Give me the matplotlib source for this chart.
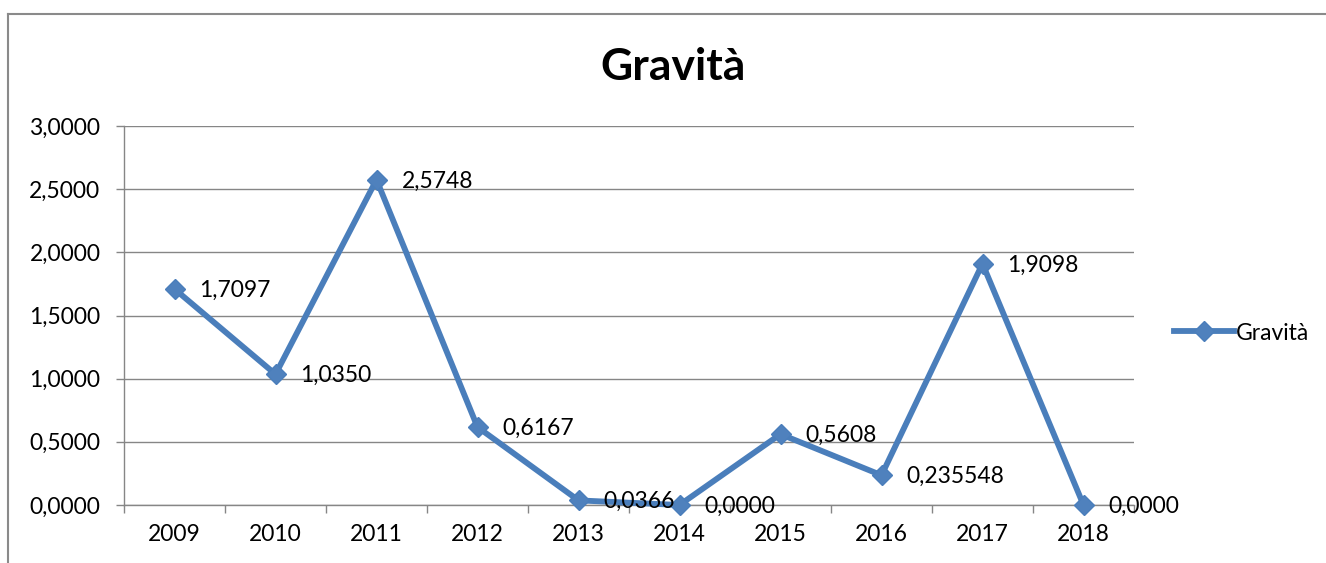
"""
Line chart 'Gravità' per year, Excel-style.
Outputs: out.png
"""
import matplotlib.pyplot as plt
from matplotlib.lines import Line2D
import numpy as np

# data
years = ['2009', '2010', '2011', '2012', '2013', '2014', '2015', '2016', '2017', '2018']
values = [1.7097, 1.0350, 2.5748, 0.6167, 0.0366, 0.0000, 0.5608, 0.235548, 1.9098, 0.0000]
point_labels = ['1,7097', '1,0350', '2,5748', '0,6167', '0,0366', '0,0000',
                '0,5608', '0,235548', '1,9098', '0,0000']
y_ticks = [0.0, 0.5, 1.0, 1.5, 2.0, 2.5, 3.0]
y_ticklabels = ['0,0000', '0,5000', '1,0000', '1,5000', '2,0000', '2,5000', '3,0000']

plt.rcParams['font.family'] = ['Lato', 'DejaVu Sans']

W, H = 1326, 563
fig = plt.figure(figsize=(W / 100, H / 100), dpi=100)
ax = fig.add_axes([124 / W, 1 - 505 / H, (1134 - 124) / W, (505 - 126) / H])

grey = '#868686'
line_col = '#4A7EBB'

x = np.arange(len(years))
ax.plot(x, values, color=line_col, linewidth=4.2, marker='D', markersize=10,
        markerfacecolor='#4F81BD', markeredgecolor=line_col, label='Gravità',
        zorder=3, clip_on=False)

# data labels to the right of each point
for xi, v, lab in zip(x, values, point_labels):
    ax.annotate(lab, (xi, v), xytext=(18, -1), textcoords='offset points',
                ha='left', va='center', fontsize=16.5, color='black', zorder=4)

ax.set_xlim(-0.5, len(years) - 0.5)
ax.set_ylim(0, 3)
ax.set_yticks(y_ticks)
ax.set_yticklabels(y_ticklabels, fontsize=16.5)
ax.set_xticks(x)
ax.set_xticklabels(years, fontsize=16.5)
ax.set_xticks(np.arange(-0.5, len(years)), minor=True)

ax.tick_params(axis='y', length=6, width=1, color=grey, pad=11, direction='out')
ax.tick_params(axis='x', which='major', length=0, pad=14)
ax.tick_params(axis='x', which='minor', length=6, width=1, color=grey, direction='out')

ax.grid(axis='y', color=grey, linewidth=1)
ax.set_axisbelow(True)
for side in ['top', 'right']:
    ax.spines[side].set_visible(False)
for side in ['left', 'bottom']:
    ax.spines[side].set_color(grey)
    ax.spines[side].set_linewidth(1)

fig.text(673 / W, 1 - 67 / H, 'Gravità', ha='center', va='center',
         fontsize=32, fontweight='bold')

leg = fig.legend(loc='center left', bbox_to_anchor=(1165 / W, 1 - 333 / H),
                 frameon=False, fontsize=16.5, handlelength=2.6,
                 handletextpad=0.1, borderaxespad=0)

# outer chart frame (cropped at right and bottom)
fig.add_artist(Line2D([8 / W, 1], [1 - 14 / H, 1 - 14 / H], color='#8A8A8A',
                      linewidth=1.5, transform=fig.transFigure))
fig.add_artist(Line2D([8 / W, 8 / W], [1 - 14 / H, 0], color='#8A8A8A',
                      linewidth=1.5, transform=fig.transFigure))

plt.savefig('out.png', dpi=100)
plt.close()
